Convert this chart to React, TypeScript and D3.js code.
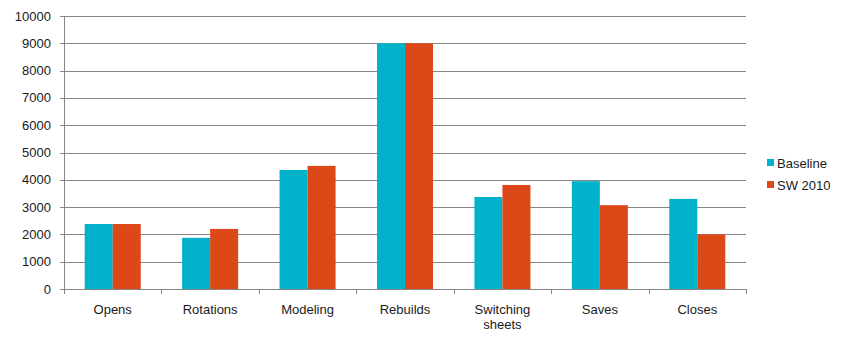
import React from "react";
import * as d3 from "d3";

const categories = ["Opens", "Rotations", "Modeling", "Rebuilds", "Switching sheets", "Saves", "Closes"];
const seriesNames = ["Baseline", "SW 2010"];
const baseline = [2380, 1875, 4360, 9000, 3370, 3950, 3300];
const sw2010 = [2380, 2200, 4510, 9000, 3810, 3070, 2000];
const yTicks = [0, 1000, 2000, 3000, 4000, 5000, 6000, 7000, 8000, 9000, 10000];
const colors = ["#00B3CB", "#DC4817"];

export default function App() {
  const W = 846, H = 348;
  const left = 64, right = 746, top = 16, bottom = 289;
  const x = d3.scaleBand<string>().domain(categories).range([left, right]).paddingInner(0).paddingOuter(0);
  const y = d3.scaleLinear().domain([0, 10000]).range([bottom, top]);
  const bw = x.bandwidth();
  const barW = bw * 0.2875;
  const sub = d3.scaleBand<string>().domain(seriesNames).range([bw / 2 - barW, bw / 2 + barW]);
  const data = [baseline, sw2010];
  const font = "'Liberation Sans', Arial, sans-serif";
  return (
    <svg width={W} height={H} style={{ position: "absolute", left: 0, top: 0, background: "#fff" }} fontFamily={font}>
      {yTicks.map((t) => (
        <g key={t}>
          {t > 0 && <line x1={left} x2={right} y1={Math.round(y(t)) + 0.5} y2={Math.round(y(t)) + 0.5} stroke="#868686" strokeWidth={1} />}
          <line x1={left - 4} x2={left} y1={Math.round(y(t)) + 0.5} y2={Math.round(y(t)) + 0.5} stroke="#868686" />
          <text x={left - 13} y={y(t)} dy="0.35em" textAnchor="end" fontSize={13} fill="#1a1a1a">{t}</text>
        </g>
      ))}
      {categories.map((c, i) =>
        data.map((vals, s) => (
          <rect key={c + s} x={(x(c) as number) + (sub(seriesNames[s]) as number)} y={y(vals[i])} width={sub.bandwidth()} height={bottom - y(vals[i])} fill={colors[s]} />
        ))
      )}
      <line x1={left + 0.5} x2={left + 0.5} y1={top} y2={bottom} stroke="#868686" />
      <line x1={left} x2={right} y1={bottom + 0.5} y2={bottom + 0.5} stroke="#868686" />
      {d3.range(categories.length + 1).map((i) => {
        const xx = Math.round(left + i * bw) + 0.5;
        return <line key={i} x1={xx} x2={xx} y1={bottom} y2={bottom + 5} stroke="#868686" />;
      })}
      {categories.map((c) => {
        const words = c === "Switching sheets" ? ["Switching", "sheets"] : [c];
        return (
          <text key={c} textAnchor="middle" fontSize={13} fill="#1a1a1a">
            {words.map((w, k) => (
              <tspan key={k} x={(x(c) as number) + bw / 2} y={314 + k * 15}>{w}</tspan>
            ))}
          </text>
        );
      })}
      {seriesNames.map((n, s) => (
        <g key={n}>
          <rect x={767} y={159 + s * 22} width={7} height={7} fill={colors[s]} />
          <text x={777} y={163 + s * 22} dy="0.35em" fontSize={13} fill="#1a1a1a">{n}</text>
        </g>
      ))}
    </svg>
  );
}
